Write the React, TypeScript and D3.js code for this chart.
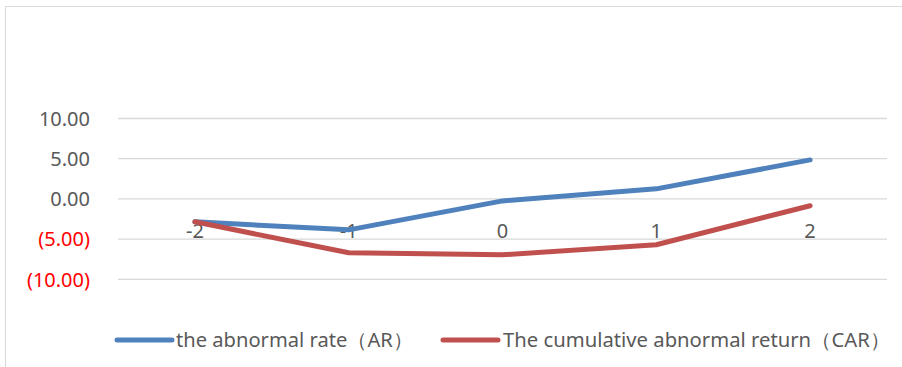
import React from "react";
import * as d3 from "d3";

const categories = ["-2", "-1", "0", "1", "2"];
const arValues = [-2.85, -3.85, -0.25, 1.25, 4.85];
const carValues = [-2.85, -6.7, -6.95, -5.7, -0.85];
const yTicks = [10, 5, 0, -5, -10];
const seriesNames = ["the abnormal rate（AR）", "The cumulative abnormal return（CAR）"];

const W = 902;
const H = 367;
const FONT = "'Noto Sans', sans-serif";

function fmt(v: number): string {
  const s = Math.abs(v).toFixed(2);
  return v < 0 ? `(${s})` : s;
}

export default function App() {
  const x = d3.scaleBand<string>().domain(categories).range([118, 887]);
  const y = d3.scaleLinear().domain([-10, 10]).range([279.3, 118.5]);
  const line = d3
    .line<number>()
    .x((_, i) => (x(categories[i]) as number) + x.bandwidth() / 2)
    .y((d) => y(d));

  const series = [
    { name: seriesNames[0], values: arValues, color: "#4F81BD", lx: 117, tx: 176, tw: 237 },
    { name: seriesNames[1], values: carValues, color: "#C0504D", lx: 443, tx: 503, tw: 387 },
  ];

  return (
    <svg
      width={W}
      height={H}
      style={{ position: "absolute", left: 0, top: 0 }}
      fontFamily={FONT}
    >
      <rect x={0} y={0} width={W} height={H} fill="#fff" />
      <rect x={5.5} y={6.5} width={W} height={H + 20} fill="none" stroke="#d9d9d9" strokeWidth={1} />
      {yTicks.map((t) => (
        <g key={t}>
          <line x1={118} x2={887} y1={y(t)} y2={y(t)} stroke="#d9d9d9" strokeWidth={1.3} />
          <text
            x={90}
            y={y(t)}
            dy="0.36em"
            textAnchor="end"
            fontSize={20}
            fill={t < 0 ? "#ff0000" : "#595959"}
          >
            {fmt(t)}
          </text>
        </g>
      ))}
      {categories.map((c) => (
        <text
          key={c}
          x={(x(c) as number) + x.bandwidth() / 2}
          y={231}
          dy="0.36em"
          textAnchor="middle"
          fontSize={20}
          fill="#595959"
        >
          {c}
        </text>
      ))}
      {series.map((s) => (
        <path
          key={s.name}
          d={line(s.values) || ""}
          fill="none"
          stroke={s.color}
          strokeWidth={5}
          strokeLinejoin="round"
          strokeLinecap="round"
        />
      ))}
      {series.map((s) => (
        <g key={s.name + "-legend"}>
          <line x1={s.lx} x2={s.lx + 55} y1={340} y2={340} stroke={s.color} strokeWidth={5} strokeLinecap="round" />
          <text
            x={s.tx}
            y={340}
            dy="0.36em"
            fontSize={20}
            fill="#595959"
            textLength={s.tw}
            lengthAdjust="spacingAndGlyphs"
          >
            {s.name}
          </text>
        </g>
      ))}
    </svg>
  );
}
